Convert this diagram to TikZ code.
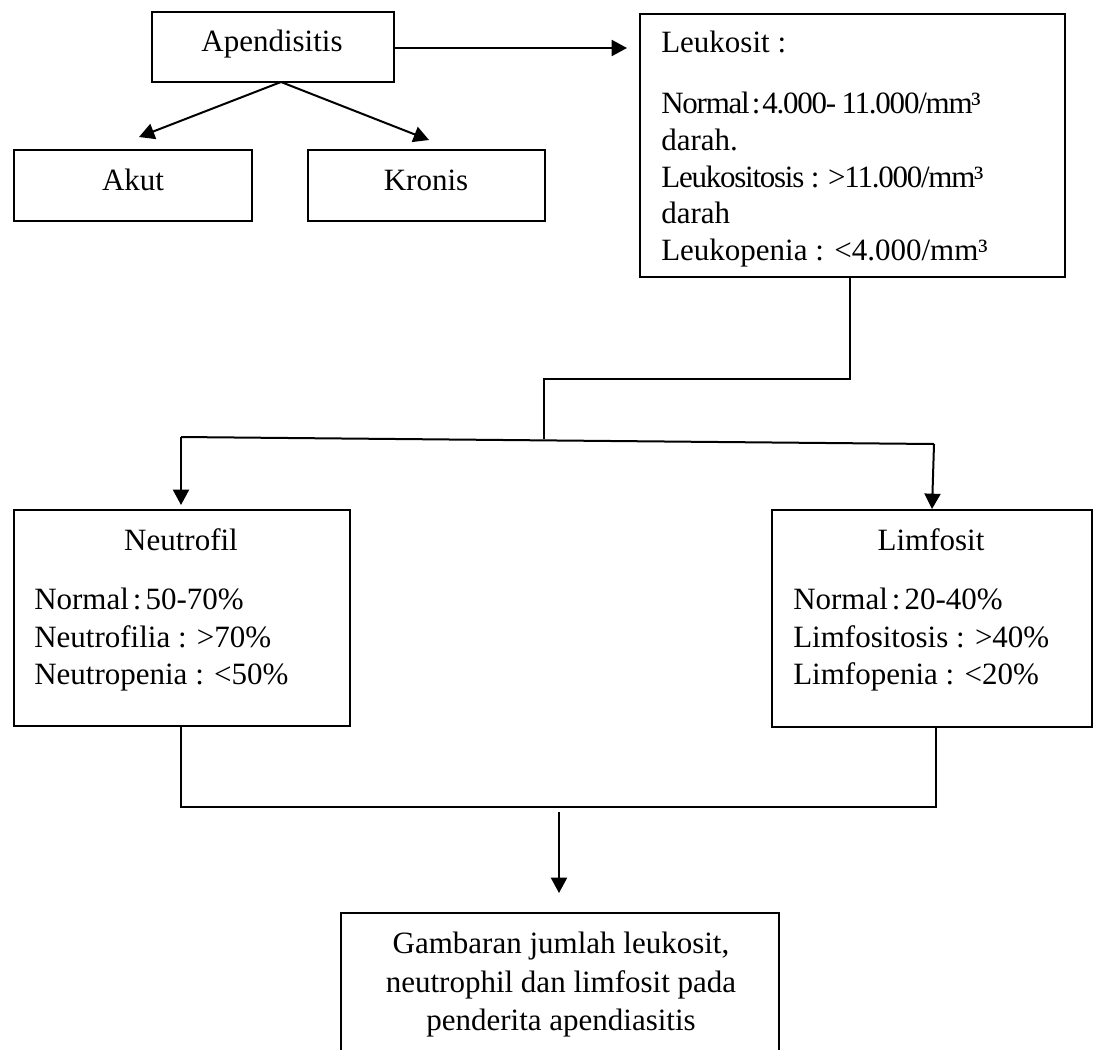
\documentclass[tikz,border=0pt]{standalone}
\usepackage{fontspec}
\setmainfont{Liberation Serif}
\usetikzlibrary{arrows.meta}
\tikzset{
  boxn/.style={draw, line width=2pt, inner sep=0pt},
  txt/.style={inner sep=0pt, anchor=base west, font=\fontsize{23.25pt}{28pt}\selectfont},
  ctxt/.style={inner sep=0pt, anchor=base, font=\fontsize{23.25pt}{28pt}\selectfont},
  ln/.style={line width=1.5pt},
  arr/.style={line width=1.5pt, -{Triangle[length=11.5pt,width=12pt]}},
}
\begin{document}
\begin{tikzpicture}[x=0.75pt,y=-0.75pt]
\clip (0,0) rectangle (1094,1049);
\fill[white] (0,0) rectangle (1094,1049);
% boxes
\node[boxn, minimum width=181.5pt, minimum height=52.5pt] (apd) at (273,47) {};
\node[boxn, minimum width=178.5pt, minimum height=53.25pt] (akut) at (133,185.5) {};
\node[boxn, minimum width=177.75pt, minimum height=53.25pt] (kron) at (426.5,185.5) {};
\node[boxn, minimum width=318.75pt, minimum height=197.25pt] (leuk) at (852.5,145.5) {};
\node[boxn, minimum width=252pt, minimum height=162pt] (neu) at (182,618) {};
\node[boxn, minimum width=240pt, minimum height=162.75pt] (lim) at (932,618.5) {};
\node[boxn, minimum width=328.5pt, minimum height=110.25pt] (gam) at (560,986.5) {};
% texts
\node[ctxt] (tApd) at (272,52) {Apendisitis};
\node[ctxt] (tAkut) at (133,190) {Akut};
\node[ctxt] (tKron) at (426,190) {Kronis};
\node[txt] (tL1) at (661,53) {Leukosit :};
\node[txt] (tL2) at (661,113) {\addfontfeature{LetterSpace=-4}Normal\kern1.5pt:\kern1.5pt4.000-\kern4pt11.000/mm³};
\node[txt] (tL3) at (661,150) {darah.};
\node[txt] (tL4) at (661,187) {\addfontfeature{LetterSpace=-4}Leukositosis : >11.000/mm³};
\node[txt] (tL5) at (661,223) {darah};
\node[txt] (tL6) at (661,260) {Leukopenia : <4.000/mm³};
\node[ctxt] (tN0) at (181,550) {Neutrofil};
\node[txt] (tN1) at (34,609) {Normal\kern3pt:\kern3pt50-70\%};
\node[txt] (tN2) at (34,647) {Neutrofilia : >70\%};
\node[txt] (tN3) at (34,684) {Neutropenia : <50\%};
\node[ctxt] (tM0) at (931,550) {Limfosit};
\node[txt] (tM1) at (793,609) {Normal\kern3pt:\kern3pt20-40\%};
\node[txt] (tM2) at (793,647) {Limfositosis : >40\%};
\node[txt] (tM3) at (793,684) {Limfopenia : <20\%};
\node[ctxt] (tG1) at (561,953) {Gambaran jumlah leukosit,};
\node[ctxt] (tG2) at (561,992) {neutrophil dan limfosit pada};
\node[ctxt] (tG3) at (561,1030) {penderita apendiasitis};
% connectors
\coordinate (hTip) at (627,48);
\draw[arr] (apd.east |- hTip) -- (hTip);
\coordinate (apdS) at (281,82);
\coordinate (akT) at (139,137);
\coordinate (krT) at (429,140);
\draw[arr] (apdS) -- (akT);
\draw[arr] (apdS) -- (krT);
\coordinate (e1) at (850,379);
\coordinate (e2) at (544,379);
\coordinate (e3) at (544,439);
\draw[ln] (leuk.south -| e1) -- (e1) -- (e2) -- (e3);
\coordinate (bL) at (181,437);
\coordinate (bR) at (934,444);
\coordinate (nT) at (181,505);
\coordinate (mT) at (932,509);
\draw[ln] (bL) -- (bR);
\draw[arr] (bL) -- (nT);
\draw[arr] (bR) -- (mT);
\coordinate (j1) at (181,807);
\coordinate (j2) at (936,807);
\draw[ln] (neu.south -| j1) -- (j1) -- (j2) -- (lim.south -| j2);
\coordinate (dA) at (559,812);
\coordinate (dT) at (559,893);
\draw[arr] (dA) -- (dT);
\end{tikzpicture}
\end{document}
